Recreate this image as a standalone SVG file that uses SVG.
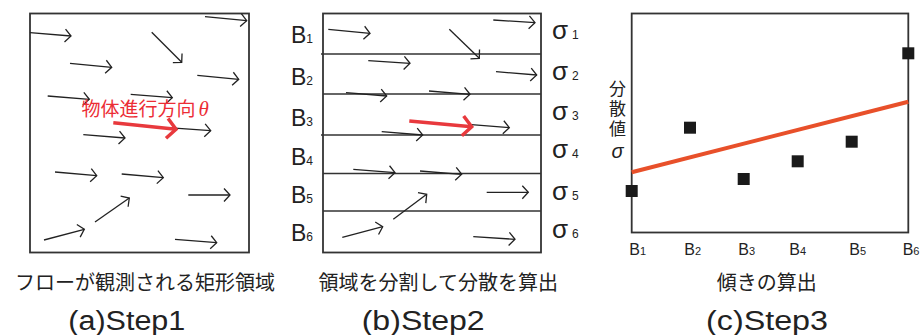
<svg xmlns="http://www.w3.org/2000/svg" width="924" height="335" viewBox="0 0 924 335">
<defs>
<marker id="ah" markerUnits="userSpaceOnUse" markerWidth="20" markerHeight="20" viewBox="-10 -10 20 20" refX="0" refY="0" orient="auto" overflow="visible">
<path d="M-6,-6.5 L0,0 L-6,6.5" fill="none" stroke="#222" stroke-width="1.3" stroke-linejoin="miter"/>
</marker>
<marker id="rh" markerUnits="userSpaceOnUse" markerWidth="30" markerHeight="30" viewBox="-15 -15 30 30" refX="0" refY="0" orient="auto" overflow="visible">
<path d="M-9,-10 L0,0 L-9,10" fill="none" stroke="#e8393d" stroke-width="3.5" stroke-linejoin="miter"/>
</marker>
</defs>
<style>
.box{fill:none;stroke:#333;stroke-width:1.8}
.div{fill:none;stroke:#333;stroke-width:1.5}
.ar{fill:none;stroke:#222;stroke-width:1.3;marker-end:url(#ah)}
.red{fill:none;stroke:#e8393d;stroke-width:3.5;marker-end:url(#rh)}
.jp{font-family:"Noto Sans CJK JP","Noto Sans",sans-serif;fill:#222}
.lat{font-family:"Liberation Sans",Arial,sans-serif;fill:#222}
.sq{fill:#1a1a1a}
</style>
<rect width="924" height="335" fill="#fff"/>

<!-- Panel (a) -->
<g id="panel-a">
<rect id="region-a" class="box" x="30" y="13.5" width="219" height="239"/>
<g id="flow-a">
<path class="ar" d="M30,32.7 L71,36"/>
<path class="ar" d="M205,16.7 L246.7,20.7"/>
<path class="ar" d="M151.7,32.3 L181.7,62.3"/>
<path class="ar" d="M70,63.3 L111.7,67.3"/>
<path class="ar" d="M197.3,75.3 L238.7,79.3"/>
<path class="ar" d="M47.7,96 L89.3,99.3"/>
<path class="ar" d="M130.7,94.3 L172.3,97.7"/>
<path class="ar" d="M167.7,127.7 L210.7,130.7"/>
<path class="ar" d="M83.3,134.7 L125,138"/>
<path class="ar" d="M55,172 L96.7,175.7"/>
<path class="ar" d="M121.7,174 L163.3,177.7"/>
<path class="ar" d="M188.3,195 L230,195"/>
<path class="ar" d="M95,222 L129.3,198"/>
<path class="ar" d="M44,240 L84.3,229.3"/>
<path class="ar" d="M175,239.3 L216.7,242.7"/>
<path class="red" d="M113.3,122.7 L176,129.3"/>
</g>
<text class="jp" x="81.5" y="115.5" font-size="19" style="fill:#ec2d35">物体進行方向<tspan dx="3" font-size="21" font-family="Liberation Serif, serif" font-style="italic">θ</tspan></text>
</g>

<!-- Panel (b) -->
<g id="panel-b">
<rect id="region-b" class="box" x="323" y="13.5" width="218" height="239"/>
<g id="dividers">
<line class="div" x1="321" y1="54" x2="541" y2="54"/>
<line class="div" x1="323" y1="94" x2="541" y2="94"/>
<line class="div" x1="321" y1="135" x2="541" y2="135"/>
<line class="div" x1="323" y1="173.5" x2="541" y2="173.5"/>
<line class="div" x1="323" y1="211" x2="541" y2="211"/>
</g>
<g id="flow-b">
<path class="ar" d="M328.3,29.3 L370,33.3"/>
<path class="ar" d="M493.3,20 L535,22.7"/>
<path class="ar" d="M449.3,29.3 L479.3,58.3"/>
<path class="ar" d="M368.3,60.7 L410,63.3"/>
<path class="ar" d="M496,71.7 L536.7,75"/>
<path class="ar" d="M346,92.7 L386.7,96"/>
<path class="ar" d="M429,91 L470,94.3"/>
<path class="ar" d="M468.3,124.3 L509.3,127.7"/>
<path class="ar" d="M381.7,131.7 L422.7,135"/>
<path class="ar" d="M353.3,169.3 L395,172.7"/>
<path class="ar" d="M420,171 L461.7,174.3"/>
<path class="ar" d="M486.7,192.3 L528.3,192.3"/>
<path class="ar" d="M393.3,219.3 L426.7,194.3"/>
<path class="ar" d="M342.3,237.3 L382.7,226.7"/>
<path class="ar" d="M473.3,236.7 L515,239.3"/>
<path class="red" d="M409.3,121 L471.7,126.7"/>
</g>
<g id="b-labels" class="lat">
<text x="291" y="43.3" font-size="23">B<tspan font-size="12">1</tspan></text>
<text x="291" y="85" font-size="23">B<tspan font-size="12">2</tspan></text>
<text x="291" y="126" font-size="23">B<tspan font-size="12">3</tspan></text>
<text x="291" y="165" font-size="23">B<tspan font-size="12">4</tspan></text>
<text x="291" y="203" font-size="23">B<tspan font-size="12">5</tspan></text>
<text x="291" y="240.7" font-size="23">B<tspan font-size="12">6</tspan></text>
</g>
<g id="sigma-labels" class="lat">
<text x="552" y="39.3" font-size="26">σ<tspan x="572" font-size="12">1</tspan></text>
<text x="552" y="80" font-size="26">σ<tspan x="572" font-size="12">2</tspan></text>
<text x="552" y="120" font-size="26">σ<tspan x="572" font-size="12">3</tspan></text>
<text x="552" y="158.3" font-size="26">σ<tspan x="572" font-size="12">4</tspan></text>
<text x="552" y="200" font-size="26">σ<tspan x="572" font-size="12">5</tspan></text>
<text x="552" y="238.3" font-size="26">σ<tspan x="572" font-size="12">6</tspan></text>
</g>
</g>

<!-- Panel (c) -->
<g id="panel-c">
<rect id="axes" class="box" x="631.7" y="13.5" width="276.6" height="219"/>
<line id="trend" x1="631.7" y1="172.3" x2="908.3" y2="101.7" stroke="#e8502a" stroke-width="4"/>
<g id="points">
<rect class="sq" x="625.7" y="185" width="12" height="12"/>
<rect class="sq" x="684" y="121.7" width="12" height="12"/>
<rect class="sq" x="737.7" y="173" width="12" height="12"/>
<rect class="sq" x="791.7" y="155.3" width="12" height="12"/>
<rect class="sq" x="845.7" y="135.7" width="12" height="12"/>
<rect class="sq" x="902.3" y="47.3" width="12" height="12"/>
</g>
<g id="x-labels" class="lat">
<text x="629.3" y="255" font-size="16">B<tspan font-size="11">1</tspan></text>
<text x="684.3" y="255" font-size="16">B<tspan font-size="11">2</tspan></text>
<text x="738.3" y="255" font-size="16">B<tspan font-size="11">3</tspan></text>
<text x="789.3" y="255" font-size="16">B<tspan font-size="11">4</tspan></text>
<text x="849.3" y="255" font-size="16">B<tspan font-size="11">5</tspan></text>
<text x="902.7" y="255" font-size="16">B<tspan font-size="11">6</tspan></text>
</g>
<g id="y-label">
<text class="jp" x="617.5" y="80" font-size="17" writing-mode="vertical-rl" letter-spacing="3" style="text-orientation:upright">分散値<tspan font-family="Liberation Sans, sans-serif" font-style="italic" font-size="20">σ</tspan></text>
</g>
</g>

<!-- Captions -->
<g id="captions" text-anchor="middle">
<text class="jp" x="145" y="290" font-size="20">フローが観測される矩形領域</text>
<text class="jp" x="438.3" y="290" font-size="20">領域を分割して分散を算出</text>
<text class="jp" x="766.7" y="290" font-size="20">傾きの算出</text>
<text class="lat" x="126.8" y="329.5" font-size="27" textLength="117" lengthAdjust="spacingAndGlyphs">(a)Step1</text>
<text class="lat" x="423.2" y="329.5" font-size="27" textLength="123" lengthAdjust="spacingAndGlyphs">(b)Step2</text>
<text class="lat" x="767" y="329.5" font-size="27" textLength="122" lengthAdjust="spacingAndGlyphs">(c)Step3</text>
</g>
</svg>
